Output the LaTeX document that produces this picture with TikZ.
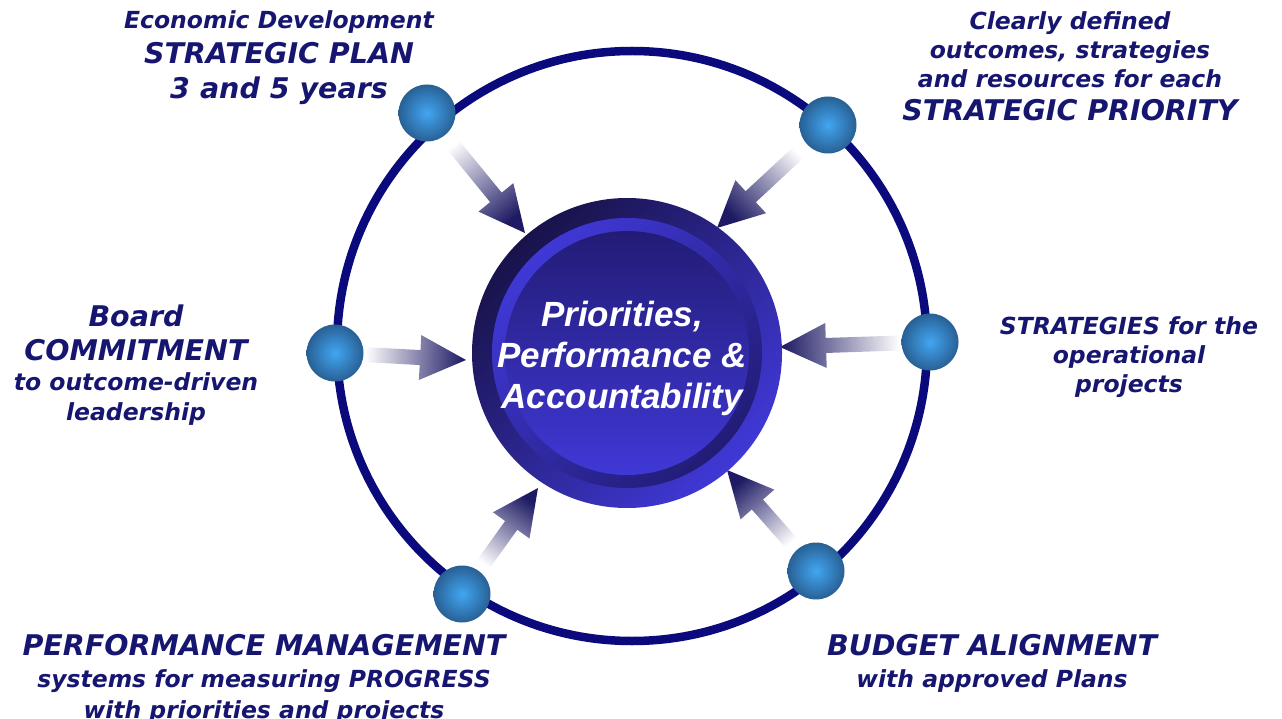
\documentclass[tikz,border=0pt]{standalone}
\usepackage{fontspec}
\setmainfont{DejaVu Sans}
\newfontfamily\hubfont{Liberation Sans}
\usetikzlibrary{calc}

\definecolor{ringblue}{RGB}{10,10,125}
\definecolor{labelblue}{RGB}{22,22,112}
\definecolor{arrownavy}{RGB}{30,27,100}
\definecolor{balllight}{RGB}{66,166,242}
\definecolor{balldark}{RGB}{40,96,148}
\definecolor{hubdark}{RGB}{24,19,74}
\definecolor{hubbright}{RGB}{64,56,214}
\definecolor{hubmid}{RGB}{34,28,118}

\newcommand{\bigline}[1]{{\fontsize{28.5}{33}\selectfont #1}}

\newcommand{\fadearrow}[2]{%
  \pgfmathanglebetweenpoints{\pgfpointanchor{#1}{center}}{\pgfpointanchor{#2}{center}}%
  \pgfmathsetmacro{\arrang}{\pgfmathresult-90}%
  \path[top color=arrownavy, bottom color=white, shading angle=\arrang]
    ($(#1)!29pt!(#2)!7.5pt!90:(#2)$)
    -- ($(#2)!46pt!(#1)!7.5pt!90:(#2)$)
    -- ($(#2)!46pt!(#1)!22.5pt!90:(#2)$)
    -- (#2)
    -- ($(#2)!46pt!(#1)!22.5pt!-90:(#2)$)
    -- ($(#2)!46pt!(#1)!7.5pt!-90:(#2)$)
    -- ($(#1)!29pt!(#2)!7.5pt!-90:(#2)$)
    -- cycle;}

\begin{document}
\begin{tikzpicture}[x=1pt, y=-1pt,
  ball/.style={circle, minimum size=57pt, inner sep=0pt, inner color=balllight, outer color=balldark},
  hubdisk/.style={circle, minimum size=310pt, inner sep=0pt, top color=hubdark, bottom color=hubbright, shading angle=45},
  label text/.style={align=center, inner sep=0pt, anchor=north, text=labelblue,
    font=\fontsize{23.5}{29}\selectfont\bfseries\itshape}]
\useasboundingbox (0,0) rectangle (1282,719);

\draw [ringblue, line width=8.5pt] (632,346) circle [radius=295pt];

\node [ball] (plan) at (427,113) {};
\node [ball] (priority) at (828,125) {};
\node [ball] (strategies) at (930,342) {};
\node [ball] (board) at (335,353) {};
\node [ball] (performance) at (462,594) {};
\node [ball] (budget) at (816,571) {};

\coordinate (plan tip) at (525,233);
\coordinate (priority tip) at (717,228);
\coordinate (strategies tip) at (780,347);
\coordinate (board tip) at (466,360);
\coordinate (performance tip) at (538,488);
\coordinate (budget tip) at (727,470);

\fadearrow{plan}{plan tip}
\fadearrow{priority}{priority tip}
\fadearrow{strategies}{strategies tip}
\fadearrow{board}{board tip}
\fadearrow{performance}{performance tip}
\fadearrow{budget}{budget tip}

\node [hubdisk] (hub) at (627,353) {};
\shade [top color=hubbright, bottom color=hubmid, shading angle=45] (hub.center) circle [radius=135pt];
\shade [top color=hubmid, bottom color=hubbright] (hub.center) circle [radius=122pt];
\node [align=center, text=white, font=\hubfont\fontsize{35}{41}\selectfont\bfseries\itshape] (hub text) at (622,358)
  {Priorities,\\Performance \&\\Accountability};

\node [label text] (plan text) at (279,10)
  {Economic Development\\[6pt]\bigline{STRATEGIC PLAN}\\[6pt]\bigline{3 and 5 years}};
\node [label text] (priority text) at (1070,11)
  {Clearly defined\\outcomes, strategies\\and resources for each\\[4pt]\bigline{STRATEGIC PRIORITY}};
\node [label text] (board text) at (136,305)
  {\bigline{Board}\\[5pt]\bigline{COMMITMENT}\\[1pt]to outcome-driven\\[1pt]leadership};
\node [label text] (strategies text) at (1129,316)
  {STRATEGIES for the\\operational\\projects};
\node [label text] (performance text) at (264,634)
  {\bigline{PERFORMANCE MANAGEMENT}\\[3pt]systems for measuring PROGRESS\\[2pt]with priorities and projects};
\node [label text] (budget text) at (992,634)
  {\bigline{BUDGET ALIGNMENT}\\[3pt]with approved Plans};
\end{tikzpicture}
\end{document}
